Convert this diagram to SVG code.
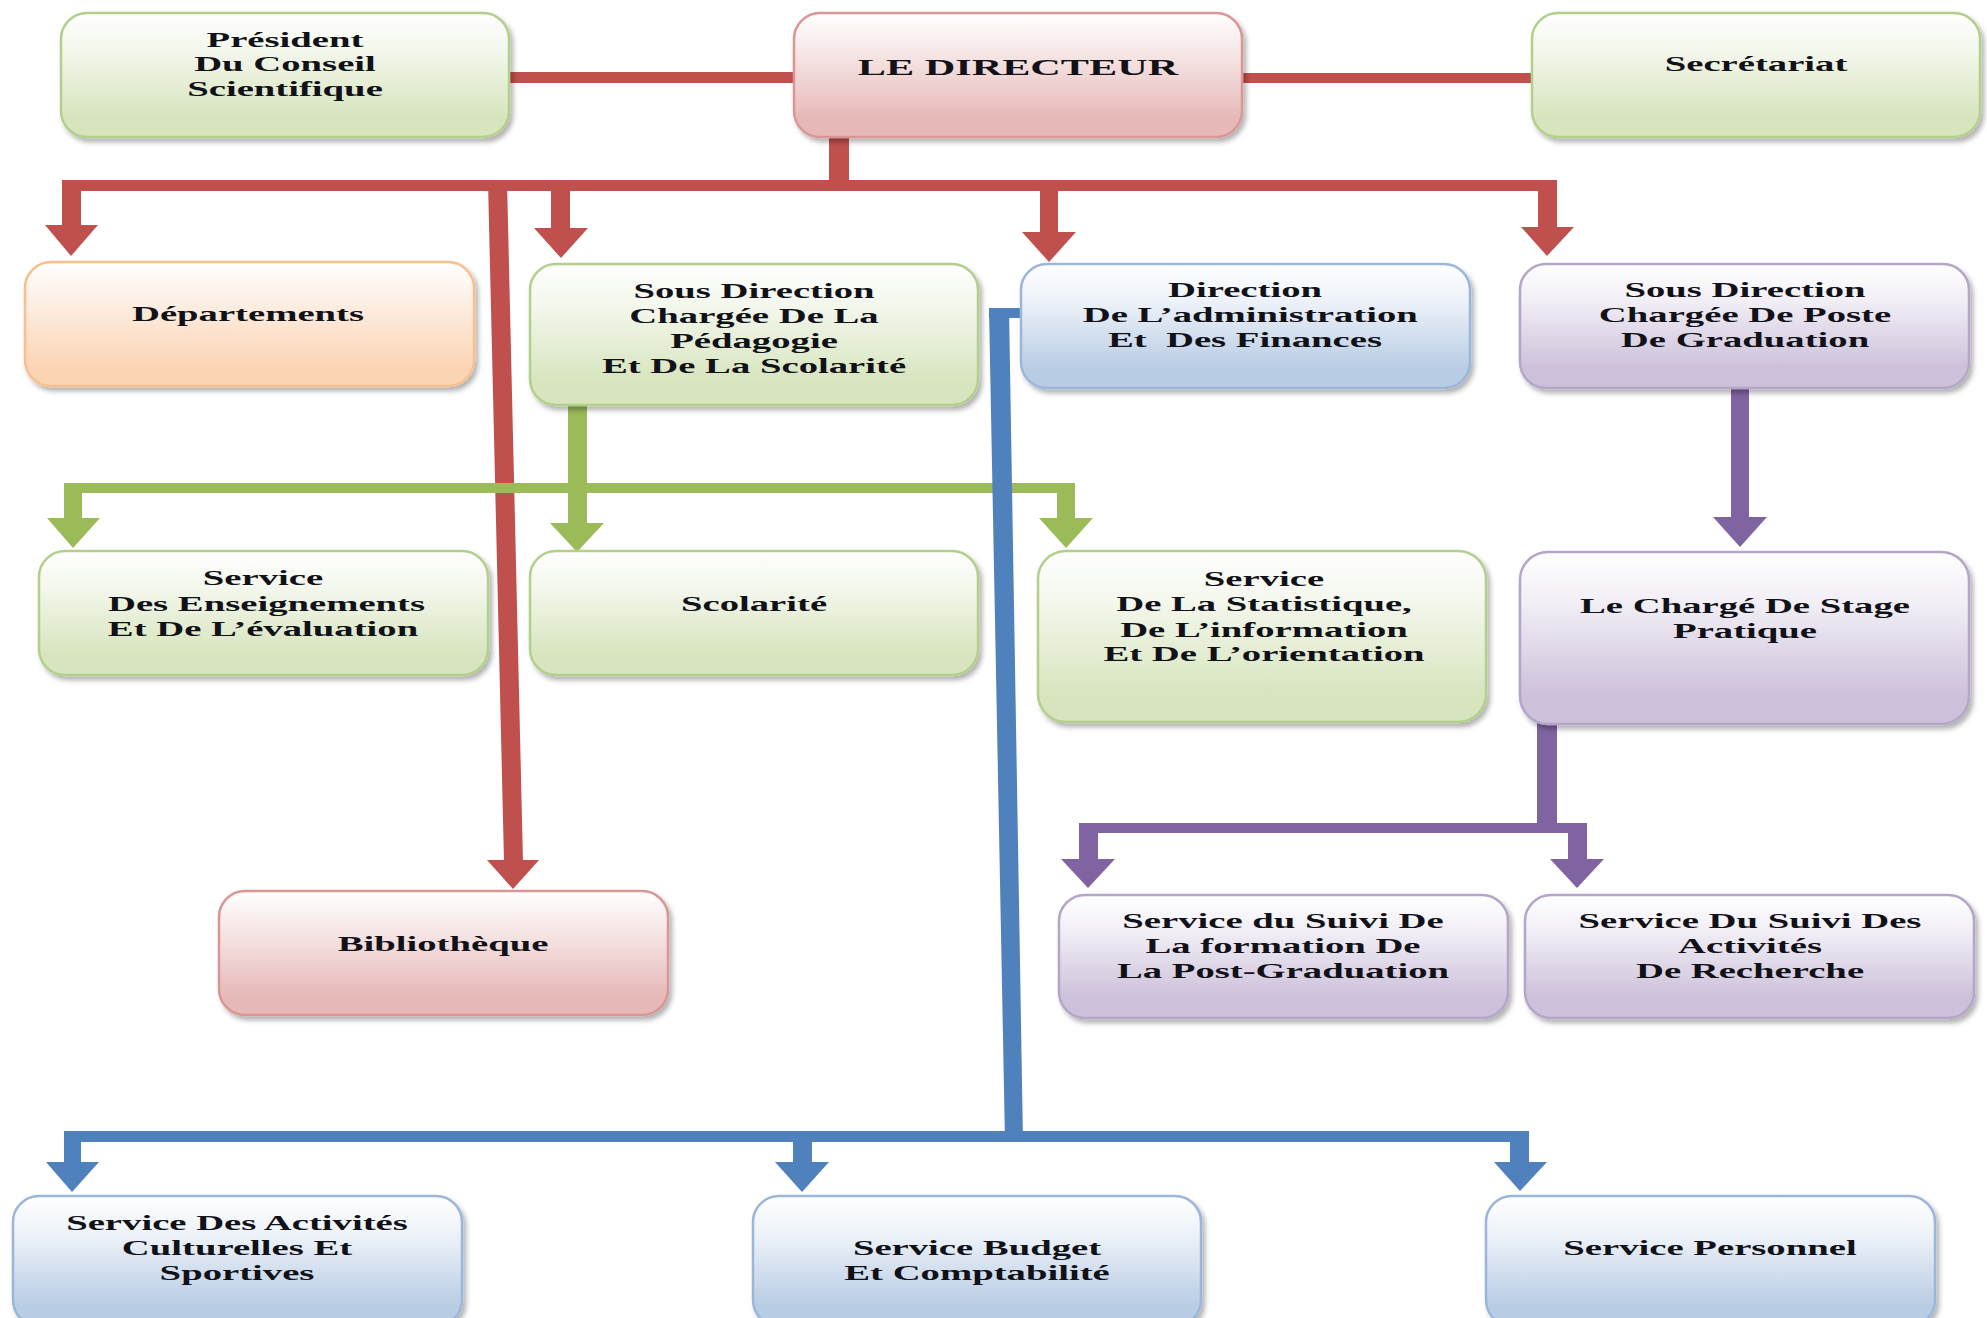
<svg xmlns="http://www.w3.org/2000/svg" width="1987" height="1318" viewBox="0 0 1987 1318">
<defs>
<linearGradient id="gG" x1="0" y1="0" x2="0" y2="1"><stop offset="0" stop-color="#ffffff"/><stop offset="0.3" stop-color="#f3f7ec"/><stop offset="0.85" stop-color="#d7e4bd"/></linearGradient>
<linearGradient id="gR" x1="0" y1="0" x2="0" y2="1"><stop offset="0" stop-color="#ffffff"/><stop offset="0.3" stop-color="#f7e8e8"/><stop offset="0.85" stop-color="#e6b9b8"/></linearGradient>
<linearGradient id="gO" x1="0" y1="0" x2="0" y2="1"><stop offset="0" stop-color="#ffffff"/><stop offset="0.3" stop-color="#fdf0e6"/><stop offset="0.85" stop-color="#fbd4b4"/></linearGradient>
<linearGradient id="gB" x1="0" y1="0" x2="0" y2="1"><stop offset="0" stop-color="#ffffff"/><stop offset="0.3" stop-color="#edf2f8"/><stop offset="0.85" stop-color="#b8cce4"/></linearGradient>
<linearGradient id="gP" x1="0" y1="0" x2="0" y2="1"><stop offset="0" stop-color="#ffffff"/><stop offset="0.3" stop-color="#f1eef5"/><stop offset="0.85" stop-color="#ccc0da"/></linearGradient>
<filter id="sh" x="-5%" y="-5%" width="112%" height="120%"><feDropShadow dx="3" dy="4" stdDeviation="2.5" flood-color="#000" flood-opacity="0.3"/></filter>
<style>
.box{stroke-width:2.5;filter:url(#sh)}
.g{fill:url(#gG);stroke:#b3cf8c}
.r{fill:url(#gR);stroke:#d99694}
.o{fill:url(#gO);stroke:#f9c08f}
.b{fill:url(#gB);stroke:#9ab7d9}
.p{fill:url(#gP);stroke:#b5a5c9}
text{font-family:"Liberation Serif","Times New Roman",serif;font-weight:bold;font-size:22px;fill:#111118;text-anchor:middle}
.cr{fill:#c0504d}
.cg{fill:#9bbb59}
.cb{fill:#4f81bd}
.cp{fill:#8064a2}
</style>
</defs>
<rect width="1987" height="1318" fill="#ffffff"/>

<g id="connectors">
<g class="cr">
<rect x="507" y="72" width="288" height="11"/>
<rect x="1240" y="73" width="293" height="10"/>
<rect x="829" y="134" width="20" height="56"/>
<rect x="62" y="180" width="1495" height="11"/>
<rect x="62" y="180" width="19" height="47"/>
<polygon points="45,225 98,225 71,256"/>
<rect x="551" y="180" width="19" height="50"/>
<polygon points="534,228 588,228 561,258"/>
<rect x="1040" y="180" width="18" height="54"/>
<polygon points="1022,232 1076,232 1049,262"/>
<rect x="1538" y="180" width="19" height="49"/>
<polygon points="1521,227 1574,227 1547,256"/>
<polygon points="488,181 507,181 523,862 504,862"/>
<polygon points="487,860 539,860 513,889"/>
</g>
<g class="cg">
<rect x="568" y="403" width="19" height="122"/>
<rect x="64" y="483" width="1011" height="10"/>
<rect x="64" y="483" width="18" height="37"/>
<polygon points="47,518 100,518 73,548"/>
<polygon points="550,523 604,523 577,552"/>
<rect x="1057" y="483" width="18" height="37"/>
<polygon points="1039,518 1093,518 1066,548"/>
</g>
<g class="cp">
<rect x="1731" y="386" width="18" height="133"/>
<polygon points="1713,517 1767,517 1740,547"/>
<rect x="1537" y="722" width="20" height="111"/>
<rect x="1079" y="823" width="508" height="10"/>
<rect x="1079" y="823" width="19" height="38"/>
<polygon points="1061,859 1115,859 1088,888"/>
<rect x="1568" y="823" width="19" height="38"/>
<polygon points="1550,859 1604,859 1577,888"/>
</g>
<g class="cb">
<rect x="989" y="308" width="33" height="10"/>
<polygon points="989,308 1009,308 1023,1142 1005,1142"/>
<rect x="64" y="1131" width="1465" height="11"/>
<rect x="64" y="1131" width="17" height="33"/>
<polygon points="46,1162 99,1162 72,1192"/>
<rect x="793" y="1131" width="19" height="33"/>
<polygon points="775,1162 829,1162 802,1192"/>
<rect x="1510" y="1131" width="19" height="33"/>
<polygon points="1494,1162 1547,1162 1520,1191"/>
</g>
</g>

<g id="president">
<rect class="box g" x="61" y="13" width="448" height="124" rx="26" ry="26"/>
<text transform="translate(285,0) scale(1.76,1)"><tspan x="0" y="47">Président</tspan><tspan x="0" y="71">Du Conseil</tspan><tspan x="0" y="96">Scientifique</tspan></text>
</g>
<g id="directeur">
<rect class="box r" x="794" y="13" width="448" height="124" rx="26" ry="26"/>
<text transform="translate(1018,0) scale(1.76,1)" style="font-size:24px"><tspan x="0" y="75">LE DIRECTEUR</tspan></text>
</g>
<g id="secretariat">
<rect class="box g" x="1532" y="13" width="448" height="124" rx="26" ry="26"/>
<text transform="translate(1756,0) scale(1.76,1)"><tspan x="0" y="71">Secrétariat</tspan></text>
</g>
<g id="departements">
<rect class="box o" x="25" y="262" width="449" height="124" rx="26" ry="26"/>
<text transform="translate(248,0) scale(1.76,1)"><tspan x="0" y="321">Départements</tspan></text>
</g>
<g id="sd-pedagogie">
<rect class="box g" x="530" y="264" width="448" height="141" rx="26" ry="26"/>
<text transform="translate(754,0) scale(1.76,1)"><tspan x="0" y="298">Sous Direction</tspan><tspan x="0" y="323">Chargée De La</tspan><tspan x="0" y="348">Pédagogie</tspan><tspan x="0" y="373">Et De La Scolarité</tspan></text>
</g>
<g id="direction-admin">
<rect class="box b" x="1021" y="264" width="449" height="124" rx="26" ry="26"/>
<text transform="translate(1245,0) scale(1.76,1)"><tspan x="0" y="297">Direction</tspan><tspan x="3" y="322">De L’administration</tspan><tspan x="0" y="347">Et &#160;Des Finances</tspan></text>
</g>
<g id="sd-poste-graduation">
<rect class="box p" x="1520" y="264" width="449" height="124" rx="26" ry="26"/>
<text transform="translate(1745,0) scale(1.76,1)"><tspan x="0" y="297">Sous Direction</tspan><tspan x="0" y="322">Chargée De Poste</tspan><tspan x="0" y="347">De Graduation</tspan></text>
</g>
<g id="service-enseignements">
<rect class="box g" x="39" y="551" width="449" height="124" rx="26" ry="26"/>
<text transform="translate(263,0) scale(1.76,1)"><tspan x="0" y="585">Service</tspan><tspan x="2" y="611">Des Enseignements</tspan><tspan x="0" y="636">Et De L’évaluation</tspan></text>
</g>
<g id="scolarite">
<rect class="box g" x="530" y="551" width="448" height="124" rx="26" ry="26"/>
<text transform="translate(754,0) scale(1.76,1)"><tspan x="0" y="611">Scolarité</tspan></text>
</g>
<g id="service-statistique">
<rect class="box g" x="1038" y="551" width="448" height="171" rx="28" ry="28"/>
<text transform="translate(1264,0) scale(1.76,1)"><tspan x="0" y="586">Service</tspan><tspan x="0" y="611">De La Statistique,</tspan><tspan x="0" y="637">De L’information</tspan><tspan x="0" y="661">Et De L’orientation</tspan></text>
</g>
<g id="charge-stage">
<rect class="box p" x="1520" y="552" width="449" height="172" rx="28" ry="28"/>
<text transform="translate(1745,0) scale(1.76,1)"><tspan x="0" y="613">Le Chargé De Stage</tspan><tspan x="0" y="638">Pratique</tspan></text>
</g>
<g id="bibliotheque">
<rect class="box r" x="219" y="891" width="449" height="124" rx="26" ry="26"/>
<text transform="translate(443,0) scale(1.76,1)"><tspan x="0" y="951">Bibliothèque</tspan></text>
</g>
<g id="suivi-formation">
<rect class="box p" x="1059" y="895" width="449" height="123" rx="26" ry="26"/>
<text transform="translate(1283,0) scale(1.76,1)"><tspan x="0" y="928">Service du Suivi De</tspan><tspan x="0" y="953">La formation De</tspan><tspan x="0" y="978">La Post-Graduation</tspan></text>
</g>
<g id="suivi-activites">
<rect class="box p" x="1525" y="895" width="449" height="123" rx="26" ry="26"/>
<text transform="translate(1750,0) scale(1.76,1)"><tspan x="0" y="928">Service Du Suivi Des</tspan><tspan x="0" y="953">Activités</tspan><tspan x="0" y="978">De Recherche</tspan></text>
</g>
<g id="activites-culturelles">
<rect class="box b" x="13" y="1196" width="449" height="130" rx="26" ry="26"/>
<text transform="translate(237,0) scale(1.76,1)"><tspan x="0" y="1230">Service Des Activités</tspan><tspan x="0" y="1255">Culturelles Et</tspan><tspan x="0" y="1280">Sportives</tspan></text>
</g>
<g id="budget">
<rect class="box b" x="753" y="1196" width="448" height="130" rx="26" ry="26"/>
<text transform="translate(977,0) scale(1.76,1)"><tspan x="0" y="1255">Service Budget</tspan><tspan x="0" y="1280">Et Comptabilité</tspan></text>
</g>
<g id="personnel">
<rect class="box b" x="1486" y="1196" width="449" height="130" rx="26" ry="26"/>
<text transform="translate(1710,0) scale(1.76,1)"><tspan x="0" y="1255">Service Personnel</tspan></text>
</g>
</svg>
